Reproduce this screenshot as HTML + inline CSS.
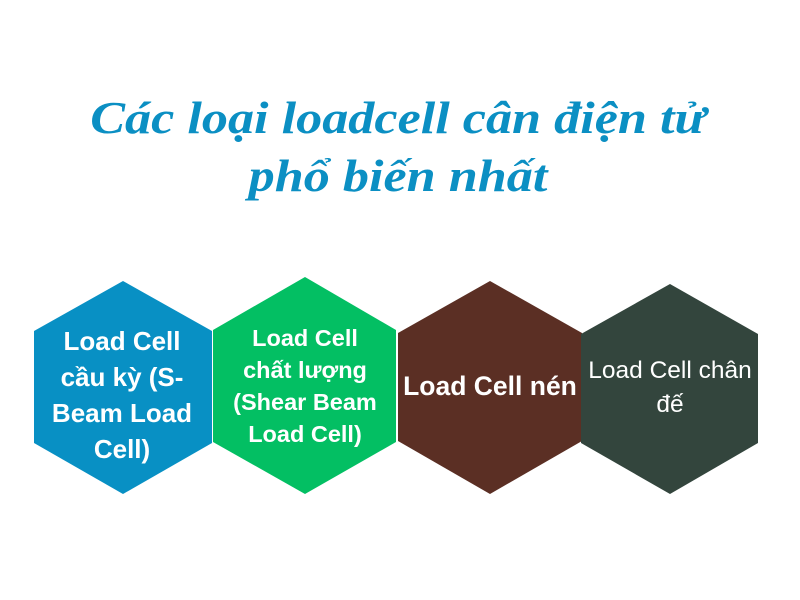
<!DOCTYPE html>
<html><head><meta charset="utf-8"><style>
html,body{margin:0;padding:0;background:#fff;width:800px;height:600px;overflow:hidden;position:relative}
.t{position:absolute;left:0;width:796px;text-align:center;font-family:"Liberation Serif",serif;font-style:italic;font-weight:bold;font-size:45px;color:#0b8fc3;line-height:58px;transform:scaleX(1.16);transform-origin:398px 0}
svg{position:absolute;left:0;top:0}
</style></head><body>
<div class="t" style="top:89px">Các loại loadcell cân điện tử<br>phổ biến nhất</div>
<svg width="800" height="600" font-family="Liberation Sans, sans-serif" fill="#fff" text-anchor="middle">
<polygon points="123,281 212,331 212,443 123,494 34,443 34,331" fill="#0890c4"/>
<polygon points="305,277 396,330 396,442 305,494 213,442 213,330" fill="#03bf63"/>
<polygon points="490,281 582,333 582,441 490,494 398,441 398,333" fill="#5b2f24"/>
<polygon points="670,284 758,334 758,443 670,494 581,443 581,334" fill="#33453d"/>
<g font-weight="bold" font-size="26">
<text x="122" y="350">Load Cell</text>
<text x="122" y="386">cầu kỳ (S-</text>
<text x="122" y="422">Beam Load</text>
<text x="122" y="458">Cell)</text>
</g>
<g font-weight="bold" font-size="23.5">
<text x="305" y="346">Load Cell</text>
<text x="305" y="378">chất lượng</text>
<text x="305" y="410">(Shear Beam</text>
<text x="305" y="442">Load Cell)</text>
</g>
<text x="490" y="395" font-weight="bold" font-size="26.5">Load Cell nén</text>
<g font-size="24.5">
<text x="670" y="378">Load Cell chân</text>
<text x="670" y="412">đế</text>
</g>
</svg>
</body></html>
